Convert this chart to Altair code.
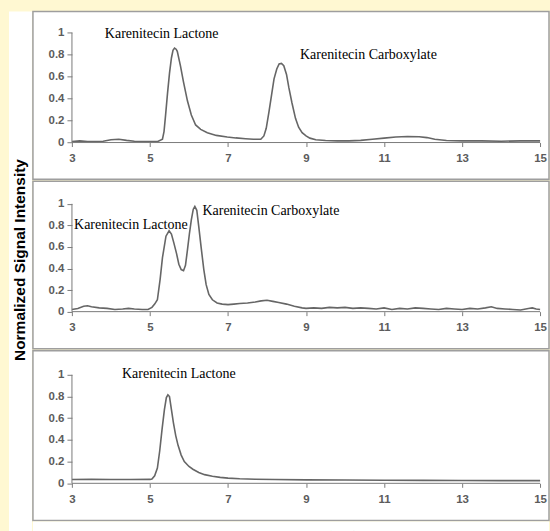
import altair as alt
import pandas as pd

# ---- chromatogram traces: retention time (min) and normalized signal ----
time_a = [3.0, 3.2, 3.4, 3.6, 3.8, 4.0, 4.2, 4.4, 4.6, 4.8, 5.0, 5.2, 5.32, 5.36, 5.40,
          5.45, 5.50, 5.55, 5.59, 5.63, 5.67, 5.70, 5.78, 5.86, 5.96, 6.06, 6.17, 6.30,
          6.47, 6.70, 6.98, 7.20, 7.45, 7.65, 7.84, 7.92, 7.98, 8.05, 8.12, 8.18, 8.25,
          8.31, 8.37, 8.43, 8.50, 8.56, 8.64, 8.73, 8.81, 8.90, 9.00, 9.10, 9.25, 9.50,
          9.80, 10.1, 10.4, 10.7, 11.0, 11.3, 11.6, 11.9, 12.1, 12.3, 12.6, 13.0, 13.5,
          14.0, 14.5, 15.0]
signal_a = [0.010, 0.015, 0.010, 0.008, 0.012, 0.025, 0.030, 0.020, 0.012, 0.010, 0.008,
            0.010, 0.030, 0.100, 0.250, 0.450, 0.630, 0.770, 0.840, 0.860, 0.850, 0.830,
            0.700, 0.550, 0.380, 0.250, 0.160, 0.120, 0.090, 0.065, 0.050, 0.042, 0.035,
            0.030, 0.030, 0.060, 0.130, 0.280, 0.440, 0.580, 0.670, 0.715, 0.720, 0.700,
            0.620, 0.500, 0.360, 0.220, 0.140, 0.090, 0.060, 0.040, 0.025, 0.018, 0.015,
            0.015, 0.020, 0.030, 0.040, 0.050, 0.055, 0.052, 0.045, 0.030, 0.018, 0.015,
            0.015, 0.012, 0.015, 0.015]

time_b = [3.0, 3.15, 3.3, 3.4, 3.5, 3.7, 3.9, 4.1, 4.3, 4.45, 4.6, 4.8, 4.95, 5.05, 5.12,
          5.19, 5.26, 5.32, 5.41, 5.49, 5.55, 5.61, 5.68, 5.74, 5.80, 5.86, 5.91, 5.96,
          6.01, 6.06, 6.11, 6.15, 6.20, 6.25, 6.31, 6.38, 6.44, 6.51, 6.60, 6.72, 6.85,
          7.0, 7.15, 7.3, 7.5, 7.7, 7.85, 8.0, 8.15, 8.3, 8.5, 8.7, 8.9, 9.0, 9.2, 9.4,
          9.6, 9.8, 10.0, 10.2, 10.4, 10.6, 10.8, 11.0, 11.2, 11.4, 11.6, 11.8, 12.0,
          12.2, 12.4, 12.6, 12.8, 13.0, 13.2, 13.4, 13.6, 13.75, 13.9, 14.1, 14.3, 14.5,
          14.7, 14.8, 14.9, 15.0]
signal_b = [0.020, 0.030, 0.050, 0.055, 0.045, 0.035, 0.030, 0.020, 0.025, 0.030, 0.025,
            0.020, 0.020, 0.040, 0.070, 0.110, 0.300, 0.500, 0.700, 0.750, 0.720, 0.640,
            0.540, 0.440, 0.390, 0.380, 0.430, 0.570, 0.720, 0.850, 0.950, 0.976, 0.940,
            0.790, 0.600, 0.390, 0.250, 0.160, 0.110, 0.080, 0.070, 0.065, 0.070, 0.075,
            0.080, 0.090, 0.100, 0.105, 0.095, 0.085, 0.070, 0.050, 0.035, 0.030, 0.035,
            0.030, 0.040, 0.035, 0.040, 0.030, 0.035, 0.030, 0.025, 0.035, 0.020, 0.030,
            0.025, 0.035, 0.030, 0.025, 0.020, 0.030, 0.025, 0.020, 0.030, 0.025, 0.035,
            0.045, 0.030, 0.025, 0.020, 0.015, 0.030, 0.035, 0.025, 0.020]

time_c = [3.0, 3.5, 4.0, 4.5, 5.0, 5.05, 5.12, 5.19, 5.25, 5.31, 5.37, 5.42, 5.46, 5.50,
          5.55, 5.60, 5.66, 5.72, 5.80, 5.88, 6.0, 6.1, 6.25, 6.4, 6.6, 6.8, 7.0, 7.3,
          7.7, 8.2, 9.0, 10.0, 11.0, 12.0, 13.0, 14.0, 15.0]
signal_c = [0.035, 0.036, 0.035, 0.035, 0.036, 0.040, 0.070, 0.140, 0.300, 0.500, 0.680,
            0.790, 0.815, 0.800, 0.680, 0.560, 0.440, 0.350, 0.260, 0.200, 0.155, 0.130,
            0.100, 0.080, 0.065, 0.055, 0.048, 0.042, 0.038, 0.035, 0.032, 0.030, 0.028,
            0.027, 0.026, 0.025, 0.025]

# ---- peak labels (text, retention time, level) ----
labels_a = ["Karenitecin Lactone", "Karenitecin Carboxylate"]
label_time_a = [5.30, 10.60]
label_level_a = [0.985, 0.80]

labels_b = ["Karenitecin Lactone", "Karenitecin Carboxylate"]
label_time_b = [4.51, 8.10]
label_level_b = [0.80, 0.93]

labels_c = ["Karenitecin Lactone"]
label_time_c = [5.74]
label_level_c = [1.01]

# ---- axis ticks ----
x_ticks = [3, 5, 7, 9, 11, 13, 15]
y_ticks = [0, 0.2, 0.4, 0.6, 0.8, 1]

# ---- layout / style ----
BOX_W = 517
PX_PER_MIN = 39.083
X_DOMAIN = [2.0, 2.0 + BOX_W / PX_PER_MIN]
Y_AXIS_OFFSET = -(x_ticks[0] - X_DOMAIN[0]) * PX_PER_MIN
PANEL_H = [168, 168, 170]
Y_DOMAINS = [[-0.3336, 1.1936], [-0.345, 1.210], [-0.343, 1.2208]]

LINE_COLOR = "#666666"
AXIS_COLOR = "#7a7a7a"
LABEL_COLOR = "#5c5c5c"
BORDER = "#9e9e9e"
PAGE_BG = "#FFF8D2"
TICK_FONT = dict(labelFont="Liberation Sans", labelFontSize=11.5,
                 labelFontWeight="bold", labelColor=LABEL_COLOR)


def panel(times, signal, labels, label_t, label_v, height, y_domain):
    lo, hi = y_domain
    x_axis_offset = -(height * (0 - lo) / (hi - lo))

    x = alt.X(
        "t:Q",
        scale=alt.Scale(domain=X_DOMAIN, nice=False, zero=False),
        axis=alt.Axis(values=x_ticks, title=None, domain=False, grid=False,
                      offset=x_axis_offset, tickSize=4, tickColor=AXIS_COLOR,
                      labelPadding=6, format="d", **TICK_FONT),
    )
    y = alt.Y(
        "v:Q",
        scale=alt.Scale(domain=y_domain, nice=False, zero=False),
        axis=alt.Axis(values=y_ticks, title=None, domain=False, grid=False,
                      offset=Y_AXIS_OFFSET, tickSize=5, tickColor=AXIS_COLOR,
                      labelPadding=3, format="~g", **TICK_FONT),
    )

    trace = pd.DataFrame({"t": times, "v": signal})
    line = alt.Chart(trace).mark_line(color=LINE_COLOR, strokeWidth=1.6).encode(x=x, y=y)

    # axis lines spanning only the tick range
    axis_df = pd.DataFrame({
        "t": [x_ticks[0], x_ticks[0]],
        "t2": [x_ticks[-1], x_ticks[0]],
        "v": [y_ticks[0], y_ticks[0]],
        "v2": [y_ticks[0], y_ticks[-1]],
    })
    axis_lines = alt.Chart(axis_df).mark_rule(color=AXIS_COLOR, strokeWidth=1).encode(
        x=x, x2="t2:Q", y=y, y2="v2:Q")

    lab_df = pd.DataFrame({"t": label_t, "v": label_v, "label": labels})
    text = alt.Chart(lab_df).mark_text(
        font="Liberation Serif", fontSize=14, color="black", align="center",
        baseline="middle").encode(x=x, y=y, text="label:N")

    return alt.layer(line, axis_lines, text).properties(
        width=BOX_W, height=height,
        view=alt.ViewBackground(fill="white", stroke=BORDER, strokeWidth=1.5),
    )


p1 = panel(time_a, signal_a, labels_a, label_time_a, label_level_a, PANEL_H[0], Y_DOMAINS[0])
p2 = panel(time_b, signal_b, labels_b, label_time_b, label_level_b, PANEL_H[1], Y_DOMAINS[1])
p3 = panel(time_c, signal_c, labels_c, label_time_c, label_level_c, PANEL_H[2], Y_DOMAINS[2])

x_title = alt.Chart(pd.DataFrame({"s": ["Retention Time (min)"]})).mark_text(
    font="Liberation Serif", fontSize=14, color="black", align="center",
    baseline="top", clip=True,
).encode(text="s:N", x=alt.value(265), y=alt.value(8)).properties(
    width=BOX_W, height=15,
    view=alt.ViewBackground(fill="white", strokeOpacity=0, strokeWidth=0),
)

y_title = alt.Chart(pd.DataFrame({"s": ["Normalized Signal Intensity"]})).mark_text(
    font="Liberation Sans", fontSize=15.5, fontWeight="bold", color="black",
    align="center", baseline="middle", angle=270,
).encode(text="s:N", x=alt.value(11), y=alt.value(249)).properties(
    width=23, height=sum(PANEL_H) + 15,
    view=alt.ViewBackground(fill="white", strokeOpacity=0, strokeWidth=0),
)

chart = alt.hconcat(
    y_title,
    alt.vconcat(p1, p2, p3, x_title, spacing=0),
    spacing=0,
).properties(
    padding={"left": 9, "top": 10, "right": 0, "bottom": 0},
    background=PAGE_BG,
)

chart.save("out.html", embed_options={"renderer": "svg", "actions": False})
